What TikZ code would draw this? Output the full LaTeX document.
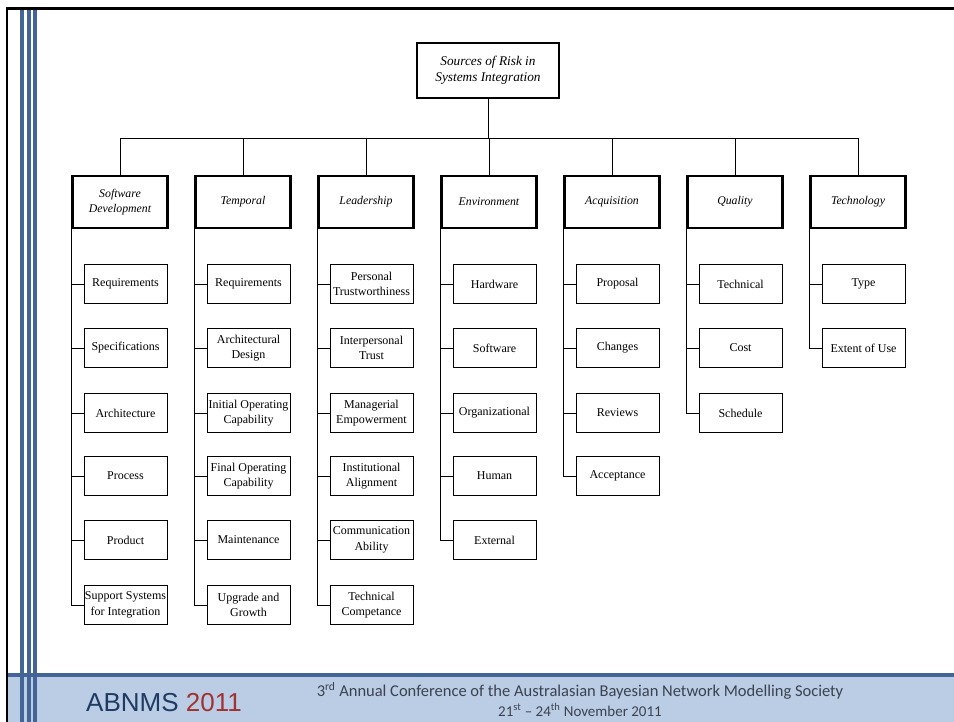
\documentclass[tikz,border=0pt]{standalone}
\usepackage{fontspec}
\setmainfont{Liberation Serif}
\newfontfamily\abnmsFont{Liberation Sans}
\newfontfamily\confFont{Carlito}
\usetikzlibrary{positioning}
\definecolor{stripeColor}{RGB}{66,100,150}
\definecolor{bandColor}{RGB}{186,205,228}
\definecolor{abnmsColor}{RGB}{31,58,99}
\definecolor{yearColor}{RGB}{160,50,50}
\definecolor{confColor}{RGB}{60,66,80}

\begin{document}
\begin{tikzpicture}[x=1pt,y=-1pt]

          \tikzstyle{rootNode} = [draw, line width=2.6pt, minimum width=142pt, minimum height=55pt, align=center, font=\fontsize{13.3}{16}\selectfont\itshape];
          \tikzstyle{groupNode} = [draw, line width=2.6pt, minimum width=95pt, minimum height=52pt, align=center, font=\fontsize{11.8}{15}\selectfont\itshape];
          \tikzstyle{leafNode} = [draw, line width=0.8pt, minimum width=83pt, minimum height=39pt, inner sep=1pt, align=center, font=\fontsize{12}{15.5}\selectfont];

          \tikzstyle{treeEdge} = [line width=0.8pt];

          \useasboundingbox (0,0) rectangle (954,722);

          % footer band and page frame
          \fill[bandColor] (8,676) rectangle (954,722);
          \fill[stripeColor] (8,673) rectangle (954,677);
          \fill[stripeColor] (20,8) rectangle (24,722);
          \fill[stripeColor] (27,8) rectangle (31,722);
          \fill[stripeColor] (33,8) rectangle (37,722);
          \draw[line width=2.2pt] (7,722) -- (7,8.5) -- (954,8.5);

          \node[abnmsColor, font=\abnmsFont\fontsize{26}{30}\selectfont] (abnms) at (164,703) {ABNMS \textcolor{yearColor}{2011}};
          \node[confColor, font=\confFont\fontsize{16.5}{19}\selectfont] (confTitle) at (580,691) {3\textsuperscript{rd} Annual Conference of the Australasian Bayesian Network Modelling Society};
          \node[confColor, font=\confFont\fontsize{15}{18}\selectfont] (confDate) at (580,710) {21\textsuperscript{st} – 24\textsuperscript{th} November 2011};

          % root and groups
          \node[rootNode] (root) at (488,70.5) {Sources of Risk in\\Systems Integration};

          \node[groupNode] (sd) at (120,202) {Software\\Development};
          \node[groupNode] (tmp) at (243,202) {Temporal};
          \node[groupNode] (lead) at (366,202) {Leadership};
          \node[groupNode] (env) at (489,202) {Environment};
          \node[groupNode] (acq) at (612,202) {Acquisition};
          \node[groupNode] (qual) at (735,202) {Quality};
          \node[groupNode] (tech) at (858,202) {Technology};

          % software development
          \node[leafNode] (sd1) at (125.5,284) {Requirements};
          \node[leafNode] (sd2) at (125.5,348) {Specifications};
          \node[leafNode] (sd3) at (125.5,413) {Architecture};
          \node[leafNode] (sd4) at (125.5,476) {Process};
          \node[leafNode] (sd5) at (125.5,540) {Product};
          \node[leafNode] (sd6) at (125.5,605) {Support Systems\\for Integration};

          % temporal
          \node[leafNode] (tmp1) at (248.5,284) {Requirements};
          \node[leafNode] (tmp2) at (248.5,348) {Architectural\\Design};
          \node[leafNode] (tmp3) at (248.5,413) {Initial Operating\\Capability};
          \node[leafNode] (tmp4) at (248.5,476) {Final Operating\\Capability};
          \node[leafNode] (tmp5) at (248.5,540) {Maintenance};
          \node[leafNode] (tmp6) at (248.5,605) {Upgrade and\\Growth};

          % leadership
          \node[leafNode] (lead1) at (371.5,284) {Personal\\Trustworthiness};
          \node[leafNode] (lead2) at (371.5,348) {Interpersonal\\Trust};
          \node[leafNode] (lead3) at (371.5,413) {Managerial\\Empowerment};
          \node[leafNode] (lead4) at (371.5,476) {Institutional\\Alignment};
          \node[leafNode] (lead5) at (371.5,540) {Communication\\Ability};
          \node[leafNode] (lead6) at (371.5,605) {Technical\\Competance};

          % environment
          \node[leafNode] (env1) at (494.5,284) {Hardware};
          \node[leafNode] (env2) at (494.5,348) {Software};
          \node[leafNode] (env3) at (494.5,413) {Organizational};
          \node[leafNode] (env4) at (494.5,476) {Human};
          \node[leafNode] (env5) at (494.5,540) {External};

          % acquisition
          \node[leafNode] (acq1) at (617.5,284) {Proposal};
          \node[leafNode] (acq2) at (617.5,348) {Changes};
          \node[leafNode] (acq3) at (617.5,413) {Reviews};
          \node[leafNode] (acq4) at (617.5,476) {Acceptance};

          % quality
          \node[leafNode] (qual1) at (740.5,284) {Technical};
          \node[leafNode] (qual2) at (740.5,348) {Cost};
          \node[leafNode] (qual3) at (740.5,413) {Schedule};

          % technology
          \node[leafNode] (tech1) at (863.5,284) {Type};
          \node[leafNode] (tech2) at (863.5,348) {Extent of Use};

          % root to groups
          \draw[treeEdge] (root.south) -- ++(0,39) -| (sd.north);
          \draw[treeEdge] (root.south) -- ++(0,39) -| (tmp.north);
          \draw[treeEdge] (root.south) -- ++(0,39) -| (lead.north);
          \draw[treeEdge] (root.south) -- ++(0,39) -| (env.north);
          \draw[treeEdge] (root.south) -- ++(0,39) -| (acq.north);
          \draw[treeEdge] (root.south) -- ++(0,39) -| (qual.north);
          \draw[treeEdge] (root.south) -- ++(0,39) -| (tech.north);

          % groups to leaves
          \draw[treeEdge] (sd.south west) |- (sd1.west) (sd.south west) |- (sd2.west) (sd.south west) |- (sd3.west)
                          (sd.south west) |- (sd4.west) (sd.south west) |- (sd5.west) (sd.south west) |- (sd6.west);
          \draw[treeEdge] (tmp.south west) |- (tmp1.west) (tmp.south west) |- (tmp2.west) (tmp.south west) |- (tmp3.west)
                          (tmp.south west) |- (tmp4.west) (tmp.south west) |- (tmp5.west) (tmp.south west) |- (tmp6.west);
          \draw[treeEdge] (lead.south west) |- (lead1.west) (lead.south west) |- (lead2.west) (lead.south west) |- (lead3.west)
                          (lead.south west) |- (lead4.west) (lead.south west) |- (lead5.west) (lead.south west) |- (lead6.west);
          \draw[treeEdge] (env.south west) |- (env1.west) (env.south west) |- (env2.west) (env.south west) |- (env3.west)
                          (env.south west) |- (env4.west) (env.south west) |- (env5.west);
          \draw[treeEdge] (acq.south west) |- (acq1.west) (acq.south west) |- (acq2.west) (acq.south west) |- (acq3.west)
                          (acq.south west) |- (acq4.west);
          \draw[treeEdge] (qual.south west) |- (qual1.west) (qual.south west) |- (qual2.west) (qual.south west) |- (qual3.west);
          \draw[treeEdge] (tech.south west) |- (tech1.west) (tech.south west) |- (tech2.west);
        \end{tikzpicture}
\end{document}
